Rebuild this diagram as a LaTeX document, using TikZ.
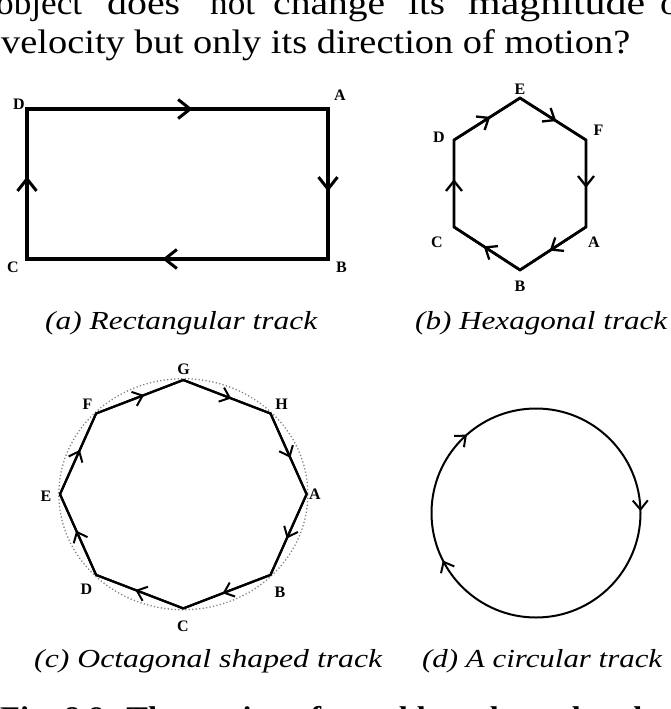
\documentclass[tikz,border=0pt]{standalone}
\usepackage{fontspec}
\setmainfont{Liberation Serif}
\usetikzlibrary{arrows.meta,decorations.markings}
\newcommand{\wfit}[2]{\resizebox{#1}{\height}{#2}}
\newcommand{\bodyfont}{\fontsize{34}{34}\selectfont}
\newcommand{\capfont}{\itshape\fontsize{26}{26}\selectfont}
\tikzset{
  rbarb/.tip={Straight Barb[length=12pt,width=19pt,line width=3pt]},
  hbarb/.tip={Straight Barb[length=10pt,width=16pt,line width=2.3pt]},
  obarb/.tip={Straight Barb[length=9pt,width=15pt,line width=2pt]},
  cbarb/.tip={Straight Barb[length=9pt,width=15pt,line width=2pt]},
  midarr/.style={postaction={decorate,decoration={markings,mark=at position 0.55 with {\arrow{#1}}}}},
  lbl/.style={inner sep=0pt,font=\bfseries\fontsize{16}{16}\selectfont},
  txt/.style={inner sep=0pt,anchor=base west},
  rtrack/.style={line width=4pt,line join=miter},
  htrack/.style={line width=2.6pt,line join=miter},
  otrack/.style={line width=2.2pt,line join=miter},
  ctrack/.style={line width=2pt},
  guide/.style={gray,line width=1.3pt,dash pattern=on 1.2pt off 2.3pt}
}
\begin{document}
\begin{tikzpicture}[x=1pt,y=-1pt]
\path[use as bounding box] (0,0) rectangle (671,709);
\clip (0,0) rectangle (671,709);
\fill[white] (0,0) rectangle (671,709);

% body text
\node[txt] (w1) at (-4,15) {\wfit{86pt}{\bodyfont object}};
\node[txt] (w2) at (107,15) {\wfit{73pt}{\bodyfont does}};
\node[txt] (w3) at (210,15) {\wfit{45pt}{\bodyfont not}};
\node[txt] (w4) at (273,15) {\wfit{112pt}{\bodyfont change}};
\node[txt] (w5) at (408,15) {\wfit{37pt}{\bodyfont its}};
\node[txt] (w6) at (468,15) {\wfit{177pt}{\bodyfont magnitude}};
\node[txt] (w7) at (660,15) {\scalebox{1.12}[1]{\bodyfont of}};
\node[txt] (l2) at (1,54) {\wfit{629pt}{\bodyfont velocity but only its direction of motion?}};

% (a) rectangle
\coordinate (rD) at (27,109);
\coordinate (rA) at (328,109);
\coordinate (rB) at (328,259);
\coordinate (rC) at (27,259);
\draw[rtrack] (rD) -- (rA) -- (rB) -- (rC) -- cycle;
\draw[rtrack,midarr=rbarb] (rD) -- (rA);
\draw[rtrack,midarr=rbarb] (rA) -- (rB);
\draw[rtrack,midarr=rbarb] (rB) -- (rC);
\draw[rtrack,midarr=rbarb] (rC) -- (rD);
\node[lbl] (lrD) at (19,104) {D};
\node[lbl] (lrA) at (340,95.5) {A};
\node[lbl] (lrC) at (13,267.5) {C};
\node[lbl] (lrB) at (341.5,267.5) {B};

% (b) hexagon
\coordinate (hE) at (520,98);
\coordinate (hF) at (586,140);
\coordinate (hA) at (586,227);
\coordinate (hB) at (520,270);
\coordinate (hC) at (454,227);
\coordinate (hD) at (454,140);
\draw[htrack] (hA) -- (hB) -- (hC) -- (hD) -- (hE) -- (hF) -- cycle;
\draw[htrack,midarr=hbarb] (hA) -- (hB);
\draw[htrack,midarr=hbarb] (hB) -- (hC);
\draw[htrack,midarr=hbarb] (hC) -- (hD);
\draw[htrack,midarr=hbarb] (hD) -- (hE);
\draw[htrack,midarr=hbarb] (hE) -- (hF);
\draw[htrack,midarr=hbarb] (hF) -- (hA);
\node[lbl] (lhE) at (520,89.5) {E};
\node[lbl] (lhF) at (598.5,130) {F};
\node[lbl] (lhD) at (439,137.5) {D};
\node[lbl] (lhC) at (437,242.5) {C};
\node[lbl] (lhA) at (594,242) {A};
\node[lbl] (lhB) at (520,286) {B};

% (c) octagon
\coordinate (oc) at (183.3,494.2);
\draw[guide] (oc) ellipse [x radius=124.5, y radius=115.5];
\coordinate (oA) at (306.6,494.2);
\coordinate (oB) at (270.5,574.9);
\coordinate (oC) at (183.3,608.4);
\coordinate (oD) at (96.1,574.9);
\coordinate (oE) at (60,494.2);
\coordinate (oF) at (96.1,413.5);
\coordinate (oG) at (183.3,380);
\coordinate (oH) at (270.5,413.5);
\draw[otrack] (oA) -- (oB) -- (oC) -- (oD) -- (oE) -- (oF) -- (oG) -- (oH) -- cycle;
\draw[otrack,midarr=obarb] (oA) -- (oB);
\draw[otrack,midarr=obarb] (oB) -- (oC);
\draw[otrack,midarr=obarb] (oC) -- (oD);
\draw[otrack,midarr=obarb] (oD) -- (oE);
\draw[otrack,midarr=obarb] (oE) -- (oF);
\draw[otrack,midarr=obarb] (oF) -- (oG);
\draw[otrack,midarr=obarb] (oG) -- (oH);
\draw[otrack,midarr=obarb] (oH) -- (oA);
\node[lbl] (loG) at (183.5,369) {G};
\node[lbl] (loH) at (281.5,404) {H};
\node[lbl] (loA) at (315,494) {A};
\node[lbl] (loB) at (280,592) {B};
\node[lbl] (loC) at (183,626.5) {C};
\node[lbl] (loD) at (86.5,589) {D};
\node[lbl] (loE) at (46,496) {E};
\node[lbl] (loF) at (87.5,404) {F};

% (d) circle
\coordinate (cc) at (536,513);
\draw[ctrack,postaction={decorate,decoration={markings,
   mark=at position 0.175 with {\arrow{cbarb}},
   mark=at position 0.385 with {\arrow{cbarb}},
   mark=at position 0.747 with {\arrow{cbarb}}}}]
   (cc) ++(90:104.5) arc[start angle=90,end angle=450,radius=104.5];

% captions
\node[txt] (capa) at (45,329) {\wfit{272pt}{\capfont (a) Rectangular track}};
\node[txt] (capb) at (415,329) {\wfit{252pt}{\capfont (b) Hexagonal track}};
\node[txt] (capc) at (34,667) {\wfit{348pt}{\capfont (c) Octagonal shaped track}};
\node[txt] (capd) at (422,667) {\wfit{240pt}{\capfont (d) A circular track}};

% figure caption (cut off)
\node[txt] (fig1) at (0,727) {\wfit{642pt}{\bfseries\fontsize{30}{30}\selectfont Fig. 8.9: The motion of an athlete along closed}};
\node[txt] (fig2) at (656,727) {\bfseries\fontsize{30}{30}\selectfont tracks};
\end{tikzpicture}
\end{document}
